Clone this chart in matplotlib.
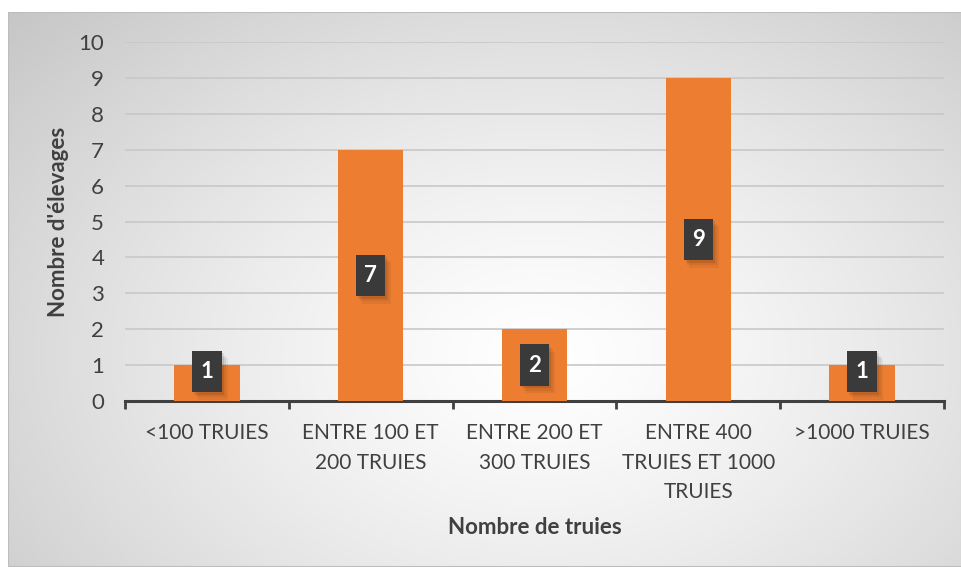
import numpy as np
import matplotlib
matplotlib.use("Agg")
import matplotlib.pyplot as plt
from matplotlib.patches import Rectangle

categories = ["<100 TRUIES", "ENTRE 100 ET\n200 TRUIES", "ENTRE 200 ET\n300 TRUIES",
              "ENTRE 400\nTRUIES ET 1000\nTRUIES", ">1000 TRUIES"]
values = [1, 7, 2, 9, 1]
yticks = list(range(0, 11))

plt.rcParams['font.family'] = ['Lato', 'DejaVu Sans']

W, H = 962, 567
fig = plt.figure(figsize=(W / 100, H / 100), dpi=100)
fig.patch.set_facecolor("white")

# background gradient chart area
bg = fig.add_axes([8 / W, 0, 1 - 8 / W, 1 - 12 / H])
bg.set_axis_off()
nx, ny = 400, 240
xx, yy = np.meshgrid(np.linspace(0, 1, nx), np.linspace(0, 1, ny))
cx, cy = 0.56, 0.62
d = np.sqrt(((xx - cx) / 0.75) ** 2 + ((yy - cy) / 0.9) ** 2)
d = np.clip(d, 0, 1)
val = 1.0 - 0.22 * d ** 1.3
img = np.dstack([val, val, val])
bg.imshow(img, extent=[0, 1, 0, 1], origin="upper", aspect="auto")
bg.set_xlim(0, 1)
bg.set_ylim(0, 1)
bg.add_patch(Rectangle((0, 0), 1, 1, fill=False, edgecolor="#bdbdbd", lw=1.5,
                       transform=bg.transAxes))

# plot axes
x0, x1 = 125, 944
y0, y1 = 401, 42
ax = fig.add_axes([x0 / W, 1 - y0 / H, (x1 - x0) / W, (y0 - y1) / H])
ax.patch.set_alpha(0)
x = np.arange(len(categories))
ax.set_xlim(-0.5, len(categories) - 0.5)
ax.set_ylim(0, 10)
ax.set_yticks(yticks)
ax.yaxis.grid(True, color="#c8c8c8", lw=1.2)
ax.set_axisbelow(True)
for s in ["top", "right", "left"]:
    ax.spines[s].set_visible(False)
ax.spines["bottom"].set_color("#404040")
ax.spines["bottom"].set_linewidth(2.2)
ax.tick_params(axis="y", length=0, labelsize=16, colors="#404040", pad=15)
ax.set_xticks(x)
ax.set_xticklabels(categories, fontsize=15, color="#404040", linespacing=1.58)
ax.tick_params(axis="x", length=0, pad=16)
# category boundary ticks
ax.set_xticks(np.arange(-0.5, len(categories)), minor=True)
ax.tick_params(axis="x", which="minor", length=6, width=2, color="#404040")

ax.bar(x, values, width=0.4, color="#ED7D31", zorder=3)

for xi, v in zip(x, values):
    yc = max(v / 2, 0.82)
    for k, a in enumerate([0.09, 0.07, 0.05]):
        off = 0.012 * (k + 1)
        ax.add_patch(Rectangle((xi - 0.09 + off, yc - 0.58 - 0.07 * (k + 1)), 0.18, 1.16,
                               facecolor="black", alpha=a, edgecolor="none", zorder=4))
    ax.add_patch(Rectangle((xi - 0.09, yc - 0.58), 0.18, 1.16,
                           facecolor="#3a3a3a", edgecolor="none", zorder=5))
    ax.text(xi, yc, str(v), ha="center", va="center", color="white",
            fontsize=16, fontweight="bold", zorder=6)

ax.set_ylabel("Nombre d'élevages", fontsize=16, fontweight="bold", color="#404040", labelpad=7)
fig.text((x0 + x1) / 2 / W, 1 - 527 / H, "Nombre de truies", ha="center", va="center",
         fontsize=16, fontweight="bold", color="#404040")

fig.savefig("out.png", dpi=100)
